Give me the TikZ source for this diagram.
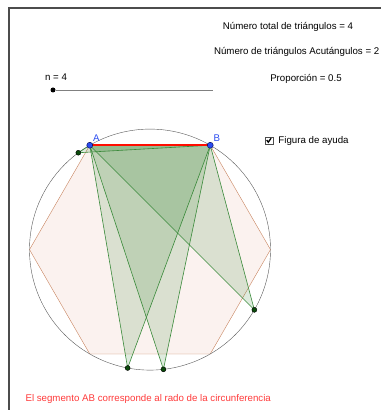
\documentclass[tikz,border=0pt]{standalone}
\usepackage{fontspec}
\setmainfont{Liberation Sans}
\usetikzlibrary{positioning,backgrounds}
\definecolor{dgreen}{HTML}{3A8A3A}
\definecolor{ptgreen}{HTML}{0B4A0B}
\definecolor{ptblue}{HTML}{2A4CF0}
\definecolor{hexbrown}{HTML}{C8835E}
\definecolor{hexfill}{HTML}{FBF2EF}
\definecolor{msgred}{HTML}{FF3A3A}

\begin{document}
\begin{tikzpicture}[x=1pt,y=1pt,font=\fontsize{9.7}{11}\selectfont,
                    pt/.style={circle,fill=ptgreen,draw=black,inner sep=0pt,minimum size=5pt},
                    vtx/.style={circle,fill=ptblue,draw=blue!30!black,inner sep=0pt,minimum size=6pt,
                                label={[text=ptblue,inner sep=1pt]above right:#1}},
                    tri/.style={draw=dgreen,fill=dgreen,fill opacity=0.17,semithick},
                    hexa/.style={draw=hexbrown,fill=hexfill,thin}]
  \useasboundingbox (0,0) rectangle (381,410);
  \draw[gray!60!black,line width=1.4pt] (9,0) -- (9,402) -- (381,402);

  % texts
  \node (total) at (288,383.3) {Número total de triángulos = 4};
  \node[anchor=east,inner xsep=1.5pt] (acut) at (381,358.3) {Número de triángulos Acutángulos = 2};
  \node (prop) at (306,331) {Proporción = 0.5};

  % slider
  \node[circle,fill=black,inner sep=0pt,minimum size=5pt] (knob) at (53,320) {};
  \coordinate (send) at (213,320);
  \draw[gray,semithick] (knob) -- (send);
  \node (n) at (56,333) {n = 4};

  % checkbox
  \node[draw=gray!60!black,fill=white,minimum size=7.5pt,inner sep=0pt] (box) at (269,269.5) {};
  \draw[line width=1.3pt] ([shift={(-2.3,0.4)}]box.center) -- ++(1.6,-2.1) -- ++(2.8,4);
  \node[right=2pt of box] (help) {Figura de ayuda};

  \node[anchor=west,text=msgred] (msg) at (22,11.3)
    {El segmento AB corresponde al rado de la circunferencia};

  \begin{scope}[shift={(150,160.4)}]
    \coordinate (O) at (0,0);
    \node[vtx=A] (A) at (120:120.5) {};
    \node[vtx=B] (B) at (60:120.5) {};
    \node[pt] (P1) at (126.5:120.5) {};
    \node[pt] (P2) at (330:120.5) {};
    \node[pt] (P3) at (259.3:120.5) {};
    \node[pt] (P4) at (276.4:120.5) {};

    \begin{scope}[on background layer]
      \draw[hexa] (0:120.5) \foreach \a in {60,120,...,300} {-- (\a:120.5)} -- cycle;
      \draw[gray!70!black] (O) circle (120.5);
      \foreach \p in {P1,P2,P3,P4}
        \filldraw[tri] (A.center) -- (B.center) -- (\p.center) -- cycle;
      \draw[red!90!orange,line width=1.8pt] (A.center) -- (B.center);
    \end{scope}
  \end{scope}
\end{tikzpicture}
\end{document}
